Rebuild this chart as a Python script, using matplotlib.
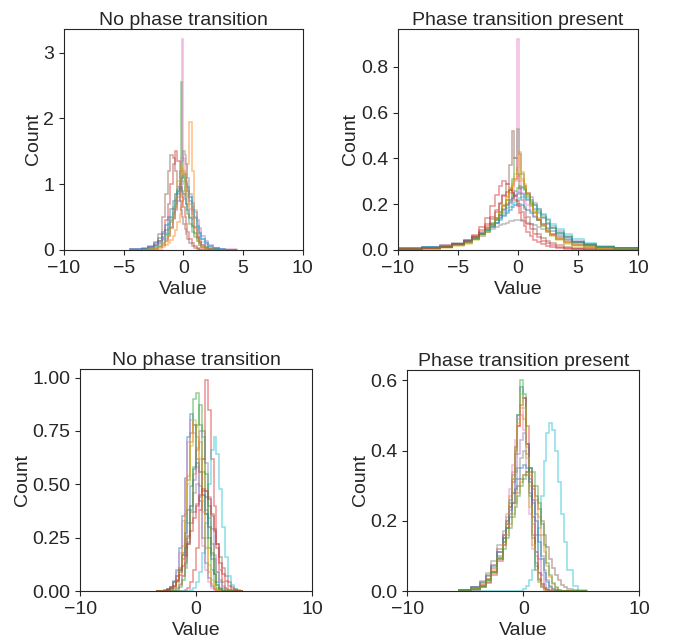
import matplotlib
matplotlib.use("Agg")
import matplotlib.pyplot as plt
from matplotlib.ticker import MultipleLocator, FormatStrFormatter
import seaborn as sns

# ---- data: hand-read bin heights, one list per overlaid histogram ----

# top-left: "No phase transition"
TL_EDGES = [-4.5, -3.5, -3, -2.5, -2.1, -1.8, -1.5, -1.3, -1.1, -0.9, -0.7, -0.5, -0.3, -0.2, -0.1,
            0, 0.1, 0.2, 0.3, 0.5, 0.7, 0.9, 1.1, 1.3, 1.5, 1.8, 2.1, 2.5, 3, 3.5, 4.5]
tl_blue = [0.01, 0.02, 0.04, 0.08, 0.13, 0.2, 0.3, 0.4, 0.5, 0.62, 0.75, 0.9, 1.0, 1.05, 1.1, 1.12, 1.08, 1.0, 0.9, 0.75,
           0.6, 0.48, 0.36, 0.26, 0.17, 0.1, 0.06, 0.03, 0.015, 0.005]
tl_orange = [0, 0, 0, 0.01, 0.02, 0.04, 0.07, 0.1, 0.15, 0.22, 0.3, 0.42, 0.55, 0.65, 0.75, 0.85, 0.95, 1.1, 1.3, 1.95,
             1.2, 0.6, 0.3, 0.15, 0.07, 0.03, 0.01, 0, 0, 0]
tl_green = [0.005, 0.01, 0.03, 0.06, 0.1, 0.16, 0.24, 0.32, 0.42, 0.55, 0.7, 0.9, 1.2, 2.55, 1.4, 1.1, 0.9, 0.7, 0.55, 0.4,
            0.28, 0.2, 0.13, 0.08, 0.05, 0.03, 0.015, 0.008, 0.004, 0]
tl_red = [0.005, 0.01, 0.03, 0.07, 0.14, 0.25, 0.45, 0.7, 1.0, 1.3, 1.5, 1.35, 1.1, 0.95, 0.8, 0.65, 0.5, 0.4, 0.28, 0.17,
          0.1, 0.06, 0.03, 0.015, 0.008, 0, 0, 0, 0, 0]
tl_purple = [0, 0.005, 0.01, 0.03, 0.06, 0.1, 0.17, 0.25, 0.35, 0.48, 0.6, 0.75, 0.88, 0.95, 1.0, 1.05, 1.05, 1.0, 0.95, 0.85,
             0.72, 0.58, 0.45, 0.33, 0.22, 0.13, 0.07, 0.035, 0.015, 0.005]
tl_brown = [0.005, 0.02, 0.05, 0.12, 0.25, 0.5, 0.85, 1.2, 1.45, 1.4, 1.2, 0.95, 0.75, 0.6, 0.5, 0.4, 0.32, 0.25, 0.17, 0.1,
            0.06, 0.03, 0.015, 0.005, 0, 0, 0, 0, 0, 0]
tl_pink = [0.01, 0.02, 0.04, 0.07, 0.12, 0.18, 0.26, 0.36, 0.48, 0.62, 0.78, 0.95, 1.15, 1.4, 3.2, 1.4, 1.15, 0.95, 0.8, 0.62,
           0.47, 0.35, 0.26, 0.18, 0.12, 0.08, 0.05, 0.03, 0.02, 0.01]
tl_gray = [0, 0, 0.01, 0.02, 0.04, 0.08, 0.14, 0.22, 0.33, 0.48, 0.65, 0.85, 1.05, 1.2, 1.35, 1.5, 1.45, 1.3, 1.1, 0.8,
           0.55, 0.35, 0.2, 0.11, 0.05, 0.02, 0.01, 0, 0, 0]
tl_olive = [0, 0.005, 0.01, 0.03, 0.06, 0.11, 0.19, 0.3, 0.45, 0.65, 0.85, 1.05, 1.2, 1.3, 1.25, 1.15, 1.0, 0.85, 0.68, 0.5,
            0.35, 0.23, 0.14, 0.08, 0.04, 0.02, 0.01, 0, 0, 0]
tl_cyan = [0.005, 0.01, 0.02, 0.05, 0.09, 0.15, 0.23, 0.33, 0.45, 0.58, 0.72, 0.87, 1.0, 1.08, 1.12, 1.15, 1.12, 1.05, 0.95, 0.8,
           0.65, 0.5, 0.37, 0.26, 0.17, 0.1, 0.05, 0.025, 0.01, 0.005]
tl_blue2 = [0.01, 0.03, 0.06, 0.11, 0.18, 0.27, 0.38, 0.5, 0.62, 0.75, 0.85, 0.92, 0.95, 0.93, 0.9, 0.85, 0.78, 0.7, 0.6, 0.48,
            0.36, 0.26, 0.18, 0.12, 0.07, 0.04, 0.02, 0.01, 0.005, 0]
tl_orange2 = [0, 0, 0.01, 0.02, 0.04, 0.08, 0.14, 0.22, 0.33, 0.47, 0.62, 0.8, 0.98, 1.1, 1.18, 1.2, 1.15, 1.05, 0.9, 0.7,
              0.5, 0.33, 0.2, 0.11, 0.05, 0.02, 0.01, 0, 0, 0]

# top-right: "Phase transition present"
TR_EDGES = [-10, -8, -6.5, -5.5, -4.5, -3.8, -3.2, -2.7, -2.3, -1.9, -1.6, -1.3, -1.0, -0.7, -0.5, -0.3, -0.1,
            0.1, 0.3, 0.5, 0.7, 1.0, 1.3, 1.6, 1.9, 2.3, 2.7, 3.2, 3.8, 4.5, 5.5, 6.5, 8, 10]
tr_blue = [0.006, 0.01, 0.016, 0.025, 0.038, 0.055, 0.075, 0.095, 0.115, 0.135, 0.155, 0.175, 0.195, 0.21, 0.225, 0.235,
           0.245, 0.25, 0.245, 0.235, 0.22, 0.2, 0.18, 0.16, 0.14, 0.115, 0.095, 0.075, 0.055, 0.037, 0.024, 0.015, 0.008]
tr_orange = [0.004, 0.007, 0.012, 0.02, 0.032, 0.048, 0.068, 0.09, 0.115, 0.14, 0.165, 0.195, 0.23, 0.26, 0.29, 0.31,
             0.325, 0.33, 0.31, 0.28, 0.24, 0.2, 0.165, 0.135, 0.108, 0.085, 0.065, 0.047, 0.032, 0.02, 0.012, 0.007, 0.004]
tr_green = [0.005, 0.009, 0.015, 0.024, 0.036, 0.052, 0.072, 0.094, 0.117, 0.14, 0.165, 0.19, 0.22, 0.26, 0.31, 0.4,
            0.53, 0.42, 0.33, 0.28, 0.23, 0.19, 0.16, 0.13, 0.105, 0.083, 0.064, 0.047, 0.033, 0.022, 0.014, 0.008, 0.005]
tr_red = [0.003, 0.006, 0.012, 0.022, 0.04, 0.065, 0.1, 0.14, 0.19, 0.24, 0.28, 0.3, 0.29, 0.27, 0.25, 0.22,
          0.19, 0.16, 0.13, 0.105, 0.08, 0.06, 0.045, 0.033, 0.024, 0.017, 0.012, 0.008, 0.005, 0.003, 0.002, 0.001, 0.001]
tr_purple = [0.005, 0.009, 0.014, 0.022, 0.033, 0.047, 0.063, 0.08, 0.1, 0.12, 0.14, 0.16, 0.185, 0.205, 0.225, 0.24,
             0.255, 0.265, 0.27, 0.265, 0.25, 0.23, 0.205, 0.18, 0.155, 0.13, 0.105, 0.082, 0.06, 0.04, 0.025, 0.015, 0.008]
tr_brown = [0.004, 0.008, 0.014, 0.024, 0.038, 0.056, 0.08, 0.105, 0.135, 0.165, 0.2, 0.24, 0.29, 0.37, 0.52, 0.4,
            0.33, 0.27, 0.22, 0.18, 0.145, 0.115, 0.09, 0.07, 0.054, 0.04, 0.03, 0.021, 0.014, 0.009, 0.005, 0.003, 0.002]
tr_pink = [0.01, 0.014, 0.02, 0.028, 0.04, 0.055, 0.072, 0.09, 0.11, 0.13, 0.15, 0.17, 0.195, 0.22, 0.25, 0.3,
           0.92, 0.3, 0.25, 0.22, 0.195, 0.17, 0.15, 0.13, 0.11, 0.09, 0.072, 0.055, 0.04, 0.028, 0.02, 0.014, 0.01]
tr_gray = [0.008, 0.013, 0.02, 0.03, 0.042, 0.055, 0.068, 0.08, 0.09, 0.1, 0.108, 0.115, 0.12, 0.125, 0.128, 0.13,
           0.13, 0.13, 0.128, 0.125, 0.12, 0.115, 0.108, 0.1, 0.09, 0.08, 0.068, 0.055, 0.042, 0.03, 0.02, 0.013, 0.008]
tr_olive = [0.003, 0.006, 0.01, 0.017, 0.028, 0.042, 0.06, 0.08, 0.105, 0.13, 0.16, 0.195, 0.235, 0.27, 0.3, 0.33,
            0.35, 0.33, 0.3, 0.27, 0.235, 0.195, 0.16, 0.13, 0.105, 0.08, 0.06, 0.042, 0.028, 0.017, 0.01, 0.006, 0.003]
tr_cyan = [0.006, 0.011, 0.017, 0.026, 0.038, 0.052, 0.068, 0.085, 0.103, 0.12, 0.138, 0.155, 0.172, 0.187, 0.2, 0.21,
           0.22, 0.225, 0.23, 0.228, 0.222, 0.21, 0.195, 0.178, 0.158, 0.137, 0.115, 0.092, 0.07, 0.048, 0.03, 0.018, 0.01]
tr_blue2 = [0.007, 0.012, 0.018, 0.028, 0.04, 0.054, 0.07, 0.086, 0.102, 0.118, 0.133, 0.148, 0.162, 0.175, 0.186, 0.195,
            0.2, 0.2, 0.195, 0.186, 0.175, 0.16, 0.145, 0.13, 0.115, 0.098, 0.082, 0.066, 0.05, 0.035, 0.023, 0.014, 0.008]
tr_orange2 = [0.004, 0.007, 0.012, 0.02, 0.032, 0.048, 0.068, 0.09, 0.115, 0.14, 0.165, 0.19, 0.22, 0.25, 0.28, 0.31,
              0.36, 0.43, 0.34, 0.29, 0.25, 0.21, 0.17, 0.14, 0.112, 0.088, 0.067, 0.049, 0.034, 0.022, 0.013, 0.007, 0.004]
tr_green2 = [0.005, 0.009, 0.015, 0.024, 0.036, 0.05, 0.068, 0.088, 0.11, 0.132, 0.155, 0.178, 0.2, 0.22, 0.24, 0.258,
             0.272, 0.28, 0.275, 0.262, 0.243, 0.22, 0.195, 0.17, 0.145, 0.12, 0.097, 0.075, 0.055, 0.037, 0.023, 0.013, 0.007]
tr_red2 = [0.004, 0.008, 0.014, 0.025, 0.042, 0.063, 0.088, 0.115, 0.145, 0.175, 0.205, 0.235, 0.255, 0.26, 0.25, 0.235,
           0.215, 0.19, 0.165, 0.14, 0.115, 0.092, 0.072, 0.055, 0.041, 0.03, 0.022, 0.015, 0.01, 0.006, 0.004, 0.002, 0.001]

# bottom-left: "No phase transition"
BL_EDGES = [-3.5, -3.25, -3.0, -2.75, -2.5, -2.25, -2.0, -1.75, -1.5, -1.25, -1.0, -0.75, -0.5, -0.25, 0.0, 0.25,
            0.5, 0.75, 1.0, 1.25, 1.5, 1.75, 2.0, 2.25, 2.5, 2.75, 3.0, 3.25, 3.5, 3.75, 4.0]
bl_blue = [0, 0, 0, 0.002, 0.008, 0.02, 0.045, 0.1, 0.2, 0.35, 0.53, 0.72, 0.83, 0.78, 0.62, 0.42, 0.25, 0.13, 0.06, 0.025,
           0.01, 0.003, 0, 0, 0, 0, 0, 0, 0, 0]
bl_orange = [0, 0, 0, 0, 0, 0, 0, 0.01, 0.03, 0.07, 0.14, 0.25, 0.4, 0.55, 0.67, 0.7, 0.62, 0.47, 0.3, 0.17,
             0.08, 0.03, 0.01, 0, 0, 0, 0, 0, 0, 0]
bl_green = [0, 0, 0, 0, 0, 0.005, 0.015, 0.04, 0.09, 0.18, 0.33, 0.52, 0.74, 0.9, 0.93, 0.78, 0.56, 0.36, 0.2, 0.1,
            0.04, 0.015, 0.005, 0, 0, 0, 0, 0, 0, 0]
bl_red = [0, 0, 0, 0, 0, 0, 0, 0, 0, 0, 0.005, 0.015, 0.04, 0.1, 0.2, 0.38, 0.62, 0.99, 0.85, 0.62,
          0.4, 0.22, 0.1, 0.04, 0.015, 0.005, 0, 0, 0, 0]
bl_purple = [0, 0, 0, 0, 0, 0, 0.005, 0.015, 0.035, 0.07, 0.13, 0.23, 0.37, 0.52, 0.66, 0.75, 0.72, 0.6, 0.44, 0.29,
             0.17, 0.09, 0.04, 0.015, 0.005, 0, 0, 0, 0, 0]
bl_brown = [0, 0, 0, 0.005, 0.01, 0.02, 0.04, 0.07, 0.1, 0.15, 0.2, 0.26, 0.32, 0.37, 0.41, 0.44, 0.45, 0.44, 0.4, 0.35,
            0.29, 0.22, 0.16, 0.11, 0.07, 0.04, 0.02, 0.01, 0.005, 0]
bl_pink = [0, 0, 0, 0, 0.005, 0.015, 0.04, 0.09, 0.18, 0.33, 0.52, 0.7, 0.8, 0.74, 0.58, 0.38, 0.21, 0.1, 0.04, 0.015,
           0.005, 0, 0, 0, 0, 0, 0, 0, 0, 0]
bl_gray = [0, 0, 0, 0.004, 0.01, 0.02, 0.04, 0.07, 0.11, 0.17, 0.24, 0.32, 0.4, 0.46, 0.5, 0.49, 0.45, 0.38, 0.3, 0.22,
           0.15, 0.09, 0.05, 0.025, 0.01, 0.004, 0, 0, 0, 0]
bl_olive = [0, 0, 0, 0, 0, 0.005, 0.015, 0.04, 0.09, 0.18, 0.32, 0.5, 0.68, 0.8, 0.77, 0.62, 0.42, 0.25, 0.12, 0.05,
            0.02, 0.005, 0, 0, 0, 0, 0, 0, 0, 0]
bl_cyan = [0, 0, 0, 0, 0, 0, 0, 0, 0, 0, 0, 0, 0.005, 0.015, 0.04, 0.09, 0.18, 0.32, 0.5, 0.66,
           0.72, 0.64, 0.48, 0.3, 0.16, 0.07, 0.03, 0.01, 0, 0]
bl_blue2 = [0, 0, 0, 0, 0.005, 0.01, 0.025, 0.05, 0.1, 0.17, 0.27, 0.38, 0.49, 0.57, 0.6, 0.56, 0.47, 0.36, 0.25, 0.15,
            0.08, 0.04, 0.015, 0.005, 0, 0, 0, 0, 0, 0]
bl_orange2 = [0, 0, 0, 0, 0, 0.005, 0.02, 0.05, 0.11, 0.21, 0.36, 0.54, 0.7, 0.78, 0.72, 0.56, 0.37, 0.2, 0.09, 0.035,
              0.01, 0, 0, 0, 0, 0, 0, 0, 0, 0]
bl_green2 = [0, 0, 0, 0, 0, 0, 0, 0, 0.02, 0.05, 0.11, 0.22, 0.38, 0.58, 0.78, 0.87, 0.75, 0.55, 0.34, 0.18,
             0.08, 0.03, 0.01, 0, 0, 0, 0, 0, 0, 0]
bl_red2 = [0, 0, 0, 0, 0.005, 0.012, 0.025, 0.045, 0.075, 0.115, 0.165, 0.22, 0.28, 0.34, 0.4, 0.45, 0.48, 0.47, 0.43, 0.36,
           0.28, 0.2, 0.13, 0.08, 0.045, 0.022, 0.01, 0.004, 0, 0]

# bottom-right: "Phase transition present"
BR_EDGES = [-5.5, -4.5, -3.75, -3.25, -2.75, -2.25, -1.75, -1.5, -1.25, -1.0, -0.75, -0.5, -0.25, 0.0, 0.25, 0.5,
            0.75, 1.0, 1.25, 1.5, 1.75, 2.0, 2.25, 2.5, 2.75, 3.0, 3.25, 3.5, 3.75, 4.25, 4.75, 5.5]
br_blue = [0.002, 0.006, 0.015, 0.03, 0.055, 0.1, 0.15, 0.2, 0.26, 0.33, 0.41, 0.5, 0.58, 0.55, 0.42, 0.28,
           0.16, 0.08, 0.035, 0.015, 0.006, 0.002, 0, 0, 0, 0, 0, 0, 0, 0, 0]
br_orange = [0.003, 0.008, 0.018, 0.035, 0.065, 0.11, 0.16, 0.21, 0.27, 0.34, 0.41, 0.47, 0.5, 0.49, 0.41, 0.3,
             0.19, 0.1, 0.05, 0.02, 0.008, 0.003, 0, 0, 0, 0, 0, 0, 0, 0, 0]
br_green = [0.002, 0.005, 0.012, 0.025, 0.05, 0.09, 0.14, 0.19, 0.25, 0.32, 0.4, 0.5, 0.6, 0.56, 0.42, 0.27,
            0.15, 0.07, 0.03, 0.012, 0.005, 0.002, 0, 0, 0, 0, 0, 0, 0, 0, 0]
br_red = [0.001, 0.004, 0.01, 0.022, 0.045, 0.085, 0.13, 0.18, 0.24, 0.31, 0.39, 0.47, 0.53, 0.55, 0.47, 0.34,
          0.21, 0.11, 0.05, 0.02, 0.008, 0.003, 0.001, 0, 0, 0, 0, 0, 0, 0, 0]
br_purple = [0.002, 0.006, 0.014, 0.03, 0.055, 0.095, 0.14, 0.18, 0.23, 0.28, 0.34, 0.39, 0.43, 0.45, 0.42, 0.35,
             0.25, 0.16, 0.09, 0.045, 0.02, 0.008, 0.003, 0, 0, 0, 0, 0, 0, 0, 0]
br_brown = [0.003, 0.01, 0.025, 0.045, 0.075, 0.12, 0.16, 0.19, 0.22, 0.25, 0.28, 0.3, 0.32, 0.33, 0.33, 0.32,
            0.3, 0.27, 0.235, 0.2, 0.16, 0.125, 0.09, 0.065, 0.045, 0.03, 0.018, 0.01, 0.005, 0.002, 0.001]
br_pink = [0.003, 0.008, 0.018, 0.035, 0.065, 0.11, 0.16, 0.22, 0.29, 0.36, 0.43, 0.49, 0.52, 0.46, 0.34, 0.22,
           0.12, 0.06, 0.025, 0.01, 0.004, 0, 0, 0, 0, 0, 0, 0, 0, 0, 0]
br_gray = [0.004, 0.012, 0.028, 0.05, 0.085, 0.13, 0.17, 0.2, 0.24, 0.28, 0.32, 0.35, 0.38, 0.4, 0.39, 0.35,
           0.29, 0.22, 0.16, 0.1, 0.06, 0.03, 0.014, 0.006, 0.002, 0, 0, 0, 0, 0, 0]
br_olive = [0.002, 0.006, 0.013, 0.028, 0.052, 0.093, 0.14, 0.19, 0.25, 0.32, 0.4, 0.48, 0.56, 0.52, 0.38, 0.24,
            0.13, 0.06, 0.025, 0.01, 0.004, 0, 0, 0, 0, 0, 0, 0, 0, 0, 0]
br_cyan = [0, 0, 0, 0, 0, 0, 0, 0, 0, 0, 0, 0, 0, 0.005, 0.015, 0.03,
           0.06, 0.11, 0.18, 0.27, 0.37, 0.45, 0.48, 0.46, 0.4, 0.31, 0.22, 0.14, 0.06, 0.015, 0.003]
br_blue2 = [0.003, 0.01, 0.022, 0.042, 0.072, 0.11, 0.15, 0.18, 0.21, 0.25, 0.29, 0.32, 0.35, 0.36, 0.35, 0.31,
            0.26, 0.2, 0.14, 0.09, 0.05, 0.025, 0.012, 0.005, 0.002, 0, 0, 0, 0, 0, 0]
br_orange2 = [0.002, 0.007, 0.017, 0.035, 0.06, 0.095, 0.13, 0.16, 0.19, 0.22, 0.25, 0.28, 0.31, 0.33, 0.34, 0.33,
              0.3, 0.26, 0.21, 0.16, 0.11, 0.07, 0.04, 0.02, 0.009, 0.004, 0.001, 0, 0, 0, 0]
br_green2 = [0.002, 0.006, 0.015, 0.03, 0.055, 0.09, 0.12, 0.15, 0.18, 0.21, 0.24, 0.27, 0.3, 0.32, 0.34, 0.35,
             0.34, 0.3, 0.25, 0.19, 0.13, 0.08, 0.045, 0.022, 0.01, 0.004, 0.001, 0, 0, 0, 0]

TITLES = ["No phase transition", "Phase transition present", "No phase transition", "Phase transition present"]

panels = [
    (TL_EDGES, [tl_blue, tl_orange, tl_green, tl_red, tl_purple, tl_brown, tl_pink, tl_gray, tl_olive, tl_cyan,
                tl_blue2, tl_orange2]),
    (TR_EDGES, [tr_blue, tr_orange, tr_green, tr_red, tr_purple, tr_brown, tr_pink, tr_gray, tr_olive, tr_cyan,
                tr_blue2, tr_orange2, tr_green2, tr_red2]),
    (BL_EDGES, [bl_blue, bl_orange, bl_green, bl_red, bl_purple, bl_brown, bl_pink, bl_gray, bl_olive, bl_cyan,
                bl_blue2, bl_orange2, bl_green2, bl_red2]),
    (BR_EDGES, [br_blue, br_orange, br_green, br_red, br_purple, br_brown, br_pink, br_gray, br_olive, br_cyan,
                br_blue2, br_orange2, br_green2]),
]

# ---- style / layout ----
sns.set_style("ticks")
plt.rcParams["font.family"] = ["Liberation Sans", "DejaVu Sans"]
FS = 14

COLORS = plt.get_cmap("tab10").colors
# axes rects in figure fractions [left, bottom, width, height]
RECTS = [
    [0.095, 0.610, 0.355, 0.345],
    [0.591, 0.610, 0.357, 0.345],
    [0.119, 0.078, 0.345, 0.346],
    [0.605, 0.078, 0.345, 0.345],
]
XTICKS = [[-10, -5, 0, 5, 10], [-10, -5, 0, 5, 10], [-10, 0, 10], [-10, 0, 10]]
YSTEP = [1, 0.2, 0.25, 0.2]
YFMT = ["%g", "%.1f", "%.2f", "%.1f"]

fig = plt.figure(figsize=(6.73, 6.41), dpi=100)

for k, (edges, series) in enumerate(panels):
    ax = fig.add_axes(RECTS[k])
    for i, h in enumerate(series):
        assert len(h) == len(edges) - 1, (k, i)
        ax.stairs(h, edges, color=COLORS[i % 10], alpha=0.5, linewidth=1.1)
    ax.set_xlim(-10, 10)
    ax.set_xticks(XTICKS[k])
    ax.yaxis.set_major_locator(MultipleLocator(YSTEP[k]))
    ax.yaxis.set_major_formatter(FormatStrFormatter(YFMT[k]))
    ax.set_title(TITLES[k], fontsize=FS, pad=3)
    ax.set_xlabel("Value", fontsize=FS, labelpad=3)
    ax.set_ylabel("Count", fontsize=FS, labelpad=1)
    ax.tick_params(labelsize=FS)

fig.savefig("out.png", dpi=100)
